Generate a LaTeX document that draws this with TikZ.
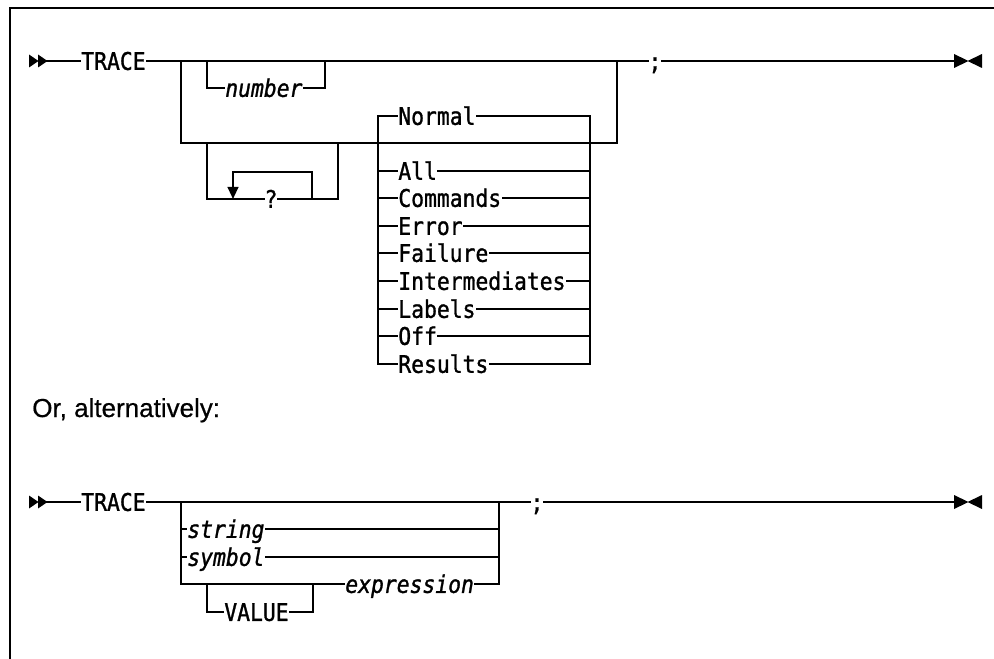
\documentclass[tikz,border=0pt]{standalone}
\usepackage{fontspec}
\usetikzlibrary{arrows.meta}
\newfontfamily\synfont[FakeStretch=0.88,FakeBold=1.2]{DejaVu Sans Mono}
\newfontfamily\altfont[FakeBold=0.6]{Liberation Sans}
\tikzset{
  rail/.style={line width=1.5pt, line join=miter, line cap=rect},
  syn/.style={font={\synfont\fontsize{18.2}{20}\selectfont}, inner xsep=0.8pt, inner ysep=0pt,
    text height=13.27pt, text depth=0pt, anchor=west},
  synit/.style={syn, font={\synfont\fontsize{18.2}{20}\selectfont\itshape}},
  tri/.style={fill=black}
}
\begin{document}
\begin{tikzpicture}[x=0.75pt, y=-0.75pt]
\useasboundingbox (0,0) rectangle (994,659);
% frame
\draw[line width=1.5pt] (994,8) -- (10,8) -- (10,659);

% ---------------- first diagram ----------------
\fill[tri] (29,54.5) -- (38.5,61) -- (29,67.5) -- cycle;
\fill[tri] (38,54.5) -- (47.5,61) -- (38,67.5) -- cycle;
\coordinate (a0) at (47,61);
\node[syn] (t1) at (80,61) {TRACE};
\coordinate (j1) at (181,61);
\coordinate (n1) at (207,61);
\coordinate (n2) at (325,61);
\coordinate (j2) at (617,61);
\node[syn, anchor=center, inner xsep=0.5pt] (semi1) at (655,61) {;};
\coordinate (e1) at (955,61);
\fill[tri] (954,54) -- (968.5,61) -- (954,68) -- cycle;
\fill[tri] (982,54) -- (967.5,61) -- (982,68) -- cycle;

\draw[rail] (a0) -- (t1.west);
\draw[rail] (t1.east) -- (j2) -- (semi1.west);
\draw[rail] (semi1.east) -- (e1);

% optional number
\node[synit] (num) at (224,88) {number};
\draw[rail] (n1) |- (num.west);
\draw[rail] (num.east) -| (n2);

% lower branch
\coordinate (b1) at (181,143);
\coordinate (b2) at (617,143);
\draw[rail] (j1) -- (b1) -- (b2) -- (j2);

% repeated ?
\coordinate (q1) at (207,143);
\coordinate (q2) at (338,143);
\node[syn, anchor=center, inner xsep=0.5pt] (qm) at (271,199) {?};
\draw[rail] (q1) |- (qm.west);
\draw[rail] (qm.east) -| (q2);
\coordinate (r1) at (312,199);
\coordinate (r2) at (233,199);
\draw[rail, -{Triangle[width=8pt,length=9pt]}] (r1) -- (312,172) -- (233,172) -- (r2);

% option column
\coordinate (cl1) at (378,116);
\coordinate (cl2) at (378,364);
\coordinate (cr1) at (590,116);
\coordinate (cr2) at (590,364);
\node[syn] (oNormal) at (397,116) {Normal};
\node[syn] (oResults) at (397,364) {Results};
\draw[rail] (oNormal.west) -- (cl1) -- (cl2) -- (oResults.west);
\draw[rail] (oNormal.east) -- (cr1) -- (cr2) -- (oResults.east);
\foreach \nm/\yy in {All/171, Commands/198, Error/226, Failure/253,
                     Intermediates/281, Labels/309, Off/336}{
  \node[syn] (o\nm) at (397,\yy) {\nm};
  \draw[rail] (378,\yy) -- (o\nm.west);
  \draw[rail] (o\nm.east) -- (590,\yy);
}

% ---------------- text ----------------
\node[font={\altfont\fontsize{19.5}{22}\selectfont}, anchor=base west, inner sep=0pt]
  (alt) at (32,417) {Or, alternatively:};

% ---------------- second diagram ----------------
\fill[tri] (29,495.5) -- (38.5,502) -- (29,508.5) -- cycle;
\fill[tri] (38,495.5) -- (47.5,502) -- (38,508.5) -- cycle;
\coordinate (d0) at (47,502);
\node[syn] (t2) at (80,502) {TRACE};
\coordinate (k1) at (181,502);
\coordinate (k2) at (499,502);
\node[syn, anchor=center, inner xsep=0.5pt] (semi2) at (537,502) {;};
\coordinate (e2) at (955,502);
\fill[tri] (954,495) -- (968.5,502) -- (954,509) -- cycle;
\fill[tri] (982,495) -- (967.5,502) -- (982,509) -- cycle;

\draw[rail] (d0) -- (t2.west);
\draw[rail] (t2.east) -- (k2) -- (semi2.west);
\draw[rail] (semi2.east) -- (e2);

\node[synit] (str) at (186,529) {string};
\node[synit] (sym) at (186,557) {symbol};
\node[synit] (expr) at (344,584) {expression};
\node[syn] (val) at (223,612) {VALUE};
\draw[rail] (k1) |- (expr.west);
\draw[rail] (expr.east) -| (k2);
\draw[rail] (181,529) -- (str.west);
\draw[rail] (str.east) -- (499,529);
\draw[rail] (181,557) -- (sym.west);
\draw[rail] (sym.east) -- (499,557);
\coordinate (v1) at (207,584);
\coordinate (v2) at (313,584);
\draw[rail] (v1) |- (val.west);
\draw[rail] (val.east) -| (v2);
\end{tikzpicture}
\end{document}
